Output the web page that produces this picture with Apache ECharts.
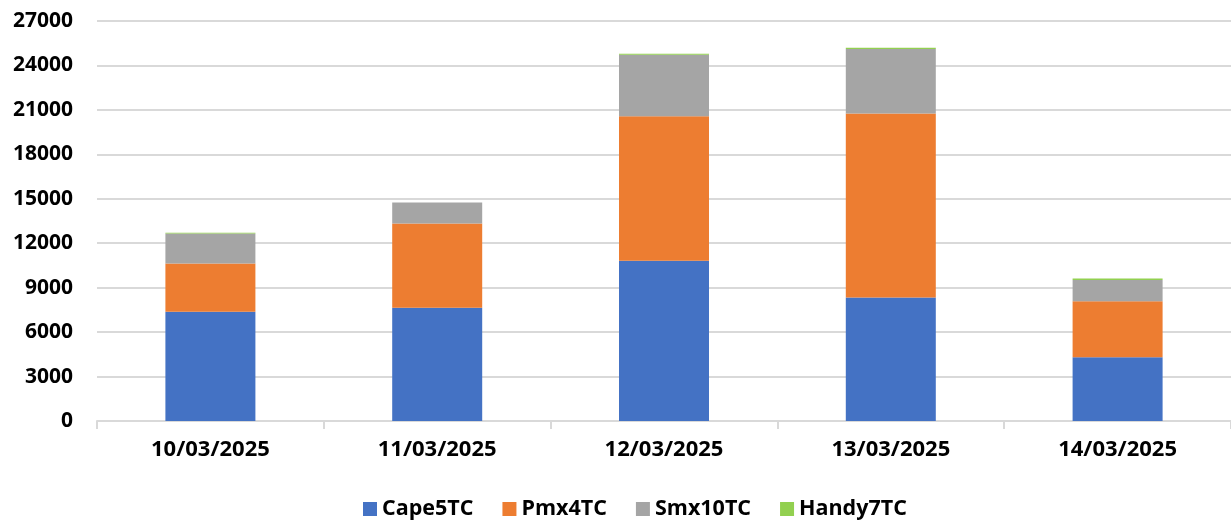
<!DOCTYPE html>
<html>
<head>
<meta charset="utf-8">
<script src="https://cdn.jsdelivr.net/npm/echarts@6/dist/echarts.min.js"></script>
<style>html,body{margin:0;padding:0;background:#fff}#c{width:1231px;height:520px}</style>
</head>
<body>
<div id="c"></div>
<script>
const categories = ['10/03/2025', '11/03/2025', '12/03/2025', '13/03/2025', '14/03/2025'];
const cape5TC = [7370, 7640, 10810, 8340, 4300];
const pmx4TC = [3260, 5690, 9760, 12410, 3790];
const smx10TC = [2020, 1420, 4160, 4360, 1420];
const handy7TC = [60, 0, 65, 90, 110];
const yTicks = [0, 3000, 6000, 9000, 12000, 15000, 18000, 21000, 24000, 27000];

const font = '"Open Sans", "Liberation Sans", sans-serif';
const chart = echarts.init(document.getElementById('c'));
const mk = (name, data, color) => ({
  name, type: 'bar', stack: 'total', data, barWidth: 90,
  itemStyle: { color }, emphasis: { disabled: true }
});
chart.setOption({
  animation: false,
  grid: { left: 97, right: 0, top: 21, bottom: 99, containLabel: false },
  legend: {
    top: 498, left: 363, padding: 0, itemWidth: 14, itemHeight: 14, itemGap: 29,
    icon: 'rect',
    textStyle: { fontFamily: font, fontWeight: 'bold', fontSize: 21.5, color: '#000' },
    data: ['Cape5TC', 'Pmx4TC', 'Smx10TC', 'Handy7TC']
  },
  xAxis: {
    type: 'category', data: categories,
    axisLine: { lineStyle: { color: '#d9d9d9', width: 2 } },
    axisTick: { show: true, length: 8, lineStyle: { color: '#d9d9d9', width: 2 } },
    axisLabel: { fontFamily: font, fontWeight: 'bold', fontSize: 22, color: '#000', margin: 18 }
  },
  yAxis: {
    type: 'value', min: yTicks[0], max: yTicks[yTicks.length - 1], interval: 3000,
    axisLine: { show: false }, axisTick: { show: false },
    splitLine: { lineStyle: { color: '#d9d9d9', width: 2 } },
    axisLabel: { fontFamily: font, fontWeight: 'bold', fontSize: 21, color: '#000', margin: 24,
      formatter: v => String(v) }
  },
  series: [
    mk('Cape5TC', cape5TC, '#4472C4'),
    mk('Pmx4TC', pmx4TC, '#ED7D31'),
    mk('Smx10TC', smx10TC, '#A5A5A5'),
    mk('Handy7TC', handy7TC, '#92D050')
  ]
});
</script>
</body>
</html>
